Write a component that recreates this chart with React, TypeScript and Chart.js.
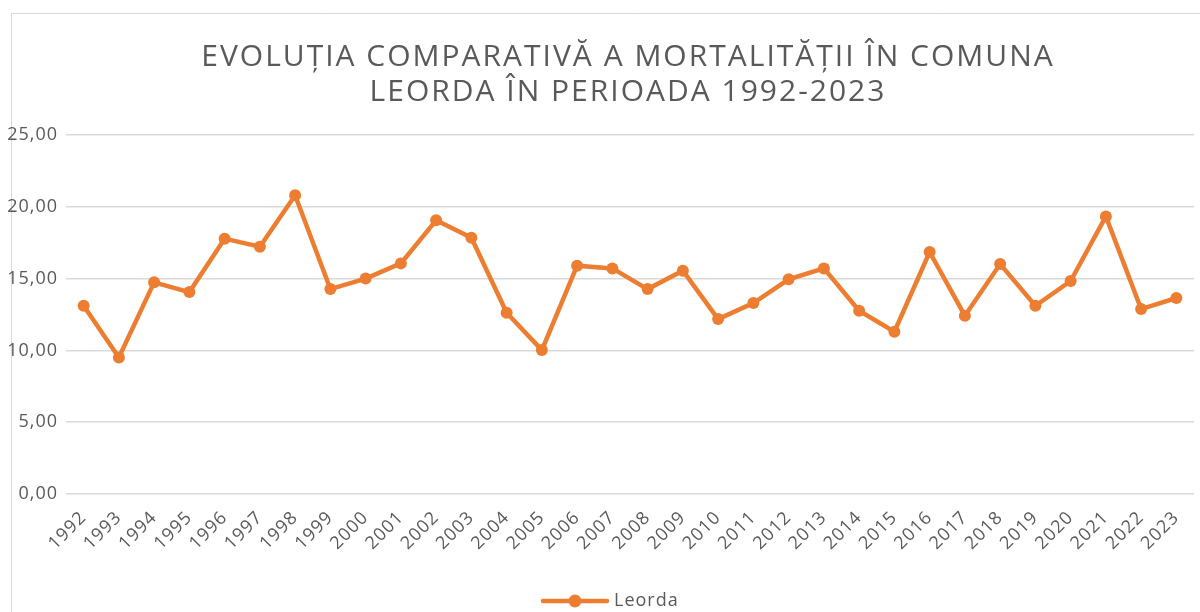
import React, { useEffect, useRef } from "react";
import { Chart, registerables } from "chart.js";

Chart.register(...registerables);

const years: string[] = [
  "1992", "1993", "1994", "1995", "1996", "1997", "1998", "1999", "2000", "2001",
  "2002", "2003", "2004", "2005", "2006", "2007", "2008", "2009", "2010", "2011",
  "2012", "2013", "2014", "2015", "2016", "2017", "2018", "2019", "2020", "2021",
  "2022", "2023",
];

const leorda: number[] = [
  13.11, 9.51, 14.74, 14.06, 17.78, 17.22, 20.8, 14.27, 15.0, 16.06,
  19.06, 17.85, 12.62, 10.02, 15.9, 15.71, 14.27, 15.55, 12.18, 13.3,
  14.95, 15.71, 12.76, 11.3, 16.85, 12.42, 16.01, 13.11, 14.83, 19.33,
  12.88, 13.65,
];

const titleLines: string[] = [
  "EVOLUȚIA COMPARATIVĂ A MORTALITĂȚII ÎN COMUNA",
  "LEORDA ÎN PERIOADA 1992-2023",
];
const seriesName = "Leorda";
const yMin = 0;
const yMax = 25;
const yStep = 5;

const ORANGE = "#ED7D31";
const TEXT = "#595959";
const GRID = "#D9D9D9";
const FONT = "'Open Sans', 'DejaVu Sans', sans-serif";

export default function App() {
  const ref = useRef<HTMLCanvasElement | null>(null);

  useEffect(() => {
    if (!ref.current) return;

    const framePlugin = {
      id: "frame",
      beforeDraw(chart: any) {
        const ctx = chart.ctx;
        ctx.save();
        ctx.strokeStyle = GRID;
        ctx.lineWidth = 1;
        ctx.beginPath();
        ctx.moveTo(11.5, 612);
        ctx.lineTo(11.5, 13.5);
        ctx.lineTo(chart.width, 13.5);
        ctx.stroke();
        ctx.restore();
        (ctx as any).letterSpacing = "1px";
      },
      beforeDatasetsDraw(chart: any) {
        (chart.ctx as any).letterSpacing = "0px";
      },
    };

    const titlePlugin = {
      id: "customTitle",
      afterDraw(chart: any) {
        const ctx = chart.ctx;
        ctx.save();
        (ctx as any).letterSpacing = "2px";
        ctx.fillStyle = TEXT;
        ctx.font = `30px ${FONT}`;
        ctx.textAlign = "center";
        ctx.textBaseline = "middle";
        const cx = chart.width / 2 + 1;
        titleLines.forEach((line, i) => {
          ctx.fillText(line, cx, 57 + i * 35);
        });
        ctx.restore();
      },
    };

    const legendPlugin = {
      id: "customLegend",
      afterDraw(chart: any) {
        const ctx = chart.ctx;
        const ds = chart.data.datasets[0];
        const y = 601;
        const x0 = 543;
        const x1 = 607;
        ctx.save();
        ctx.strokeStyle = ds.borderColor;
        ctx.lineWidth = 4.5;
        ctx.lineCap = "round";
        ctx.beginPath();
        ctx.moveTo(x0, y);
        ctx.lineTo(x1, y);
        ctx.stroke();
        ctx.fillStyle = ds.borderColor;
        ctx.beginPath();
        ctx.arc((x0 + x1) / 2, y, 6.5, 0, Math.PI * 2);
        ctx.fill();
        (ctx as any).letterSpacing = "1px";
        ctx.fillStyle = TEXT;
        ctx.font = `18px ${FONT}`;
        ctx.textBaseline = "middle";
        ctx.textAlign = "left";
        ctx.fillText(ds.label, 614, y);
        ctx.restore();
      },
    };

    const chart = new Chart(ref.current, {
      type: "line",
      data: {
        labels: years,
        datasets: [
          {
            label: seriesName,
            data: leorda,
            borderColor: ORANGE,
            backgroundColor: ORANGE,
            borderWidth: 4.5,
            pointRadius: 6,
            pointHoverRadius: 6,
            pointBackgroundColor: ORANGE,
            pointBorderWidth: 0,
            tension: 0,
            fill: false,
          },
        ],
      },
      options: {
        responsive: false,
        animation: false,
        layout: { padding: { left: 0, right: 60, top: 135, bottom: 0 } },
        plugins: {
          legend: { display: false },
          tooltip: { enabled: false },
          title: { display: false },
        },
        scales: {
          x: {
            offset: true,
            grid: { display: false },
            border: { display: false },
            ticks: {
              color: TEXT,
              font: { family: FONT, size: 18 },
              minRotation: 45,
              maxRotation: 45,
              autoSkip: false,
              padding: 5,
            },
            afterFit(scale: any) {
              scale.height = 118;
            },
          },
          y: {
            min: yMin,
            max: yMax,
            grid: { color: GRID, lineWidth: 1.5, drawTicks: false },
            border: { display: false },
            ticks: {
              stepSize: yStep,
              color: TEXT,
              padding: 8,
              font: { family: FONT, size: 18 },
              callback: (v: any) => Number(v).toFixed(2).replace(".", ","),
            },
            afterFit(scale: any) {
              scale.width = 66;
            },
          },
        },
      },
      plugins: [framePlugin, titlePlugin, legendPlugin],
    });

    return () => chart.destroy();
  }, []);

  return (
    <div
      style={{
        position: "fixed",
        left: 0,
        top: 0,
        width: 1200,
        height: 612,
        overflow: "hidden",
        background: "#fff",
      }}
    >
      <canvas ref={ref} width={1254} height={612} style={{ display: "block" }} />
    </div>
  );
}
